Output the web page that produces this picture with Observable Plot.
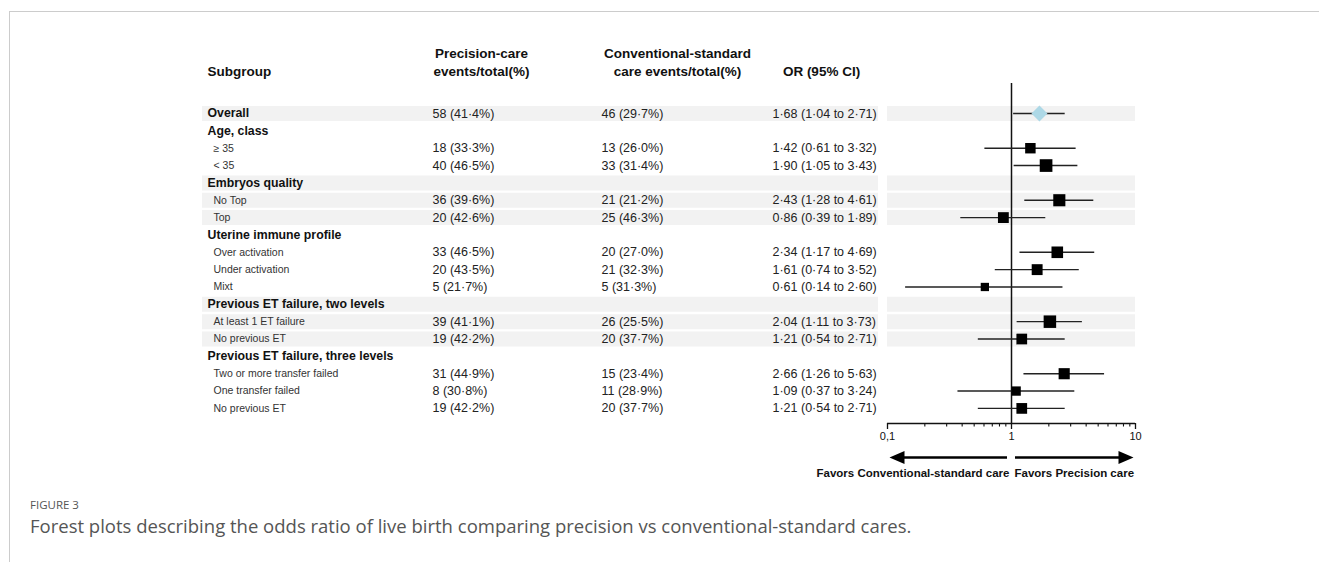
<!DOCTYPE html>
<html>
<head>
<meta charset="utf-8">
<script src="https://cdn.jsdelivr.net/npm/d3@7"></script>
<script src="https://cdn.jsdelivr.net/npm/@observablehq/plot@0.6"></script>
<style>
  html, body { margin: 0; padding: 0; background: #fff; }
  #page { position: relative; width: 1319px; height: 562px; overflow: hidden; }
  #border { position: absolute; left: 9px; top: 11px; right: 0; bottom: 0;
            border-left: 1px solid #cccccc; border-top: 1px solid #cccccc; }
  #chart { position: absolute; left: 0; top: 0; }
  #figlabel { position: absolute; left: 30px; top: 498px; font-family: "Open Sans", sans-serif;
              font-size: 11.5px; color: #555; line-height: 14px; }
  #caption { position: absolute; left: 30px; top: 513px; font-family: "Open Sans", sans-serif;
             font-size: 18.5px; color: #555; line-height: 26px; white-space: nowrap; }
</style>
</head>
<body>
<div id="page">
  <div id="border"></div>
  <div id="chart"></div>
  <div id="figlabel">FIGURE 3</div>
  <div id="caption">Forest plots describing the odds ratio of live birth comparing precision vs conventional-standard cares.</div>
</div>
<script>
// ---- data ----
const subgroups = ["Overall", "Age, class", "≥ 35", "< 35", "Embryos quality", "No Top", "Top",
  "Uterine immune profile", "Over activation", "Under activation", "Mixt",
  "Previous ET failure, two levels", "At least 1 ET failure", "No previous ET",
  "Previous ET failure, three levels", "Two or more transfer failed", "One transfer failed", "No previous ET"];
const levels = [0, 0, 1, 1, 0, 1, 1, 0, 1, 1, 1, 0, 1, 1, 0, 1, 1, 1];
const precisionEvents = [58, null, 18, 40, null, 36, 20, null, 33, 20, 5, null, 39, 19, null, 31, 8, 19];
const precisionPct = [41.4, null, 33.3, 46.5, null, 39.6, 42.6, null, 46.5, 43.5, 21.7, null, 41.1, 42.2, null, 44.9, 30.8, 42.2];
const conventionalEvents = [46, null, 13, 33, null, 21, 25, null, 20, 21, 5, null, 26, 20, null, 15, 11, 20];
const conventionalPct = [29.7, null, 26.0, 31.4, null, 21.2, 46.3, null, 27.0, 32.3, 31.3, null, 25.5, 37.7, null, 23.4, 28.9, 37.7];
const oddsRatio = [1.68, null, 1.42, 1.90, null, 2.43, 0.86, null, 2.34, 1.61, 0.61, null, 2.04, 1.21, null, 2.66, 1.09, 1.21];
const ciLow = [1.04, null, 0.61, 1.05, null, 1.28, 0.39, null, 1.17, 0.74, 0.14, null, 1.11, 0.54, null, 1.26, 0.37, 0.54];
const ciHigh = [2.71, null, 3.32, 3.43, null, 4.61, 1.89, null, 4.69, 3.52, 2.60, null, 3.73, 2.71, null, 5.63, 3.24, 2.71];
const headers = {
  subgroup: "Subgroup",
  precision: "Precision-care\nevents/total(%)",
  conventional: "Conventional-standard\ncare events/total(%)",
  or: "OR (95% CI)"
};
const majorTicks = [0.1, 1, 10];
const minorTicks = [0.2, 0.3, 0.4, 0.5, 0.6, 0.7, 0.8, 0.9, 2, 3, 4, 5, 6, 7, 8, 9];
const favors = [
  {toward: 0.1, label: "Favors Conventional-standard care"},
  {toward: 10, label: "Favors Precision care"}
];

// ---- derived table ----
const dot = (v, d) => v.toFixed(d).replace(".", "·");
let g = -1;
const rows = subgroups.map((label, i) => {
  if (levels[i] === 0) g++;
  return {
    i, label, level: levels[i], group: g,
    prec: precisionEvents[i] == null ? null : `${precisionEvents[i]} (${dot(precisionPct[i], 1)}%)`,
    conv: conventionalEvents[i] == null ? null : `${conventionalEvents[i]} (${dot(conventionalPct[i], 1)}%)`,
    or: oddsRatio[i], lo: ciLow[i], hi: ciHigh[i],
    orText: oddsRatio[i] == null ? null : `${dot(oddsRatio[i], 2)} (${dot(ciLow[i], 2)} to ${dot(ciHigh[i], 2)})`,
    // inverse-variance weight from the CI
    w: oddsRatio[i] == null ? null : 1 / Math.pow(Math.log(ciHigh[i] / ciLow[i]) / (2 * 1.96), 2)
  };
});
const shaded = rows.filter(d => d.group % 2 === 0);
const withData = rows.filter(d => d.or != null);
const overall = withData.filter(d => d.i === 0);
const subs = withData.filter(d => d.i !== 0);

// ---- layout ----
const W = 1319, H = 485, ML = 887, MR = 184, MT = 83, MB = H - 423;
const yDomain = [-1.73, 17.87];
const yBottom = yDomain[1];
const FONT = "'Liberation Sans', Arial, Helvetica, sans-serif";

const colX = {sub: 207, item: 213, prec: 432, conv: 601, or: 772};
const off = x => x - ML;

const arrowLeft = {draw(ctx) { ctx.moveTo(0, 0); ctx.lineTo(15, -6.5); ctx.lineTo(15, 6.5); ctx.closePath(); }};
const arrowRight = {draw(ctx) { ctx.moveTo(0, 0); ctx.lineTo(-15, -6.5); ctx.lineTo(-15, 6.5); ctx.closePath(); }};

const head = {frameAnchor: "top-left", lineAnchor: "middle", fontWeight: "bold", fontSize: 13.5, fill: "#111", lineHeight: 1.333};

const chart = Plot.plot({
  width: W, height: H,
  marginLeft: ML, marginRight: MR, marginTop: MT, marginBottom: MB,
  style: {background: "transparent", fontFamily: FONT, color: "#111"},
  x: {type: "log", domain: [0.1, 10]},
  y: {domain: yDomain, reverse: true, axis: null},
  r: {type: "linear", domain: [1, 3.5], range: [4.25, 7.39]},
  marks: [
    // shaded group bands (table part and plot part)
    Plot.ruleY(shaded, {y: "i", stroke: "#f2f2f2", strokeWidth: 15, insetLeft: off(202), insetRight: 1135 - 878}),
    Plot.ruleY(shaded, {y: "i", stroke: "#f2f2f2", strokeWidth: 15}),
    // headers
    Plot.text([headers.subgroup], {...head, text: d => d, dx: off(207), dy: -13, textAnchor: "start"}),
    Plot.text([headers.precision], {...head, text: d => d, dx: off(481), dy: -22, textAnchor: "middle"}),
    Plot.text([headers.conventional], {...head, text: d => d, dx: off(677), dy: -22, textAnchor: "middle"}),
    Plot.text([headers.or], {...head, text: d => d, dx: off(821), dy: -13, textAnchor: "middle"}),
    // subgroup labels
    Plot.text(rows.filter(d => d.level === 0), {y: "i", text: "label", frameAnchor: "left", dx: off(colX.sub), textAnchor: "start", fontWeight: "bold", fontSize: 12.3, fill: "#111"}),
    Plot.text(rows.filter(d => d.level === 1), {y: "i", text: "label", frameAnchor: "left", dx: off(colX.item), textAnchor: "start", fontSize: 10.5, fill: "#333"}),
    // table values
    Plot.text(withData, {y: "i", text: "prec", frameAnchor: "left", dx: off(colX.prec), textAnchor: "start", fontSize: 12.5, fill: "#222"}),
    Plot.text(withData, {y: "i", text: "conv", frameAnchor: "left", dx: off(colX.conv), textAnchor: "start", fontSize: 12.5, fill: "#222"}),
    Plot.text(withData, {y: "i", text: "orText", frameAnchor: "left", dx: off(colX.or), textAnchor: "start", fontSize: 12.5, fill: "#222"}),
    // reference line at OR = 1
    Plot.ruleX([1], {stroke: "#111", strokeWidth: 1.5}),
    // axis line
    Plot.ruleY([yBottom], {stroke: "#111", strokeWidth: 1.3}),
    Plot.axisX({ticks: majorTicks, tickSize: 6, tickPadding: 3, strokeWidth: 1.3, stroke: "#111",
      tickFormat: d => d === 0.1 ? "0,1" : String(d), fontSize: 11, fill: "#111", label: null}),
    Plot.axisX({ticks: minorTicks, tickSize: 3.5, strokeWidth: 1.1, stroke: "#111", tickFormat: () => "", label: null}),
    // confidence intervals and point estimates
    Plot.ruleY(withData, {y: "i", x1: "lo", x2: "hi", stroke: "#222", strokeWidth: 1.4}),
    Plot.dot(subs, {x: "or", y: "i", r: d => Math.sqrt(d.w), symbol: "square", fill: "#000", stroke: "none"}),
    Plot.dot(overall, {x: "or", y: "i", r: 7.2, symbol: "diamond2", fill: "#add8e6", stroke: "none"}),
    // favors arrows
    Plot.ruleY([yBottom], {x1: 0.1, x2: 1, dy: 34, insetLeft: 10, insetRight: 4, stroke: "#000", strokeWidth: 2.6}),
    Plot.ruleY([yBottom], {x1: 1, x2: 10, dy: 34, insetLeft: 4, insetRight: 10, stroke: "#000", strokeWidth: 2.6}),
    Plot.dot(favors.filter(d => d.toward < 1), {x: "toward", y: () => yBottom, dy: 34, dx: 2, symbol: arrowLeft, fill: "#000", stroke: "none"}),
    Plot.dot(favors.filter(d => d.toward > 1), {x: "toward", y: () => yBottom, dy: 34, dx: -2, symbol: arrowRight, fill: "#000", stroke: "none"}),
    Plot.text(favors.filter(d => d.toward < 1), {x: 1, y: () => yBottom, text: "label", dy: 50, dx: -2, textAnchor: "end", fontWeight: "bold", fontSize: 11.5, fill: "#111"}),
    Plot.text(favors.filter(d => d.toward > 1), {x: 1, y: () => yBottom, text: "label", dy: 50, dx: 3, textAnchor: "start", fontWeight: "bold", fontSize: 11.5, fill: "#111"})
  ]
});
document.getElementById("chart").appendChild(chart);
</script>
</body>
</html>
